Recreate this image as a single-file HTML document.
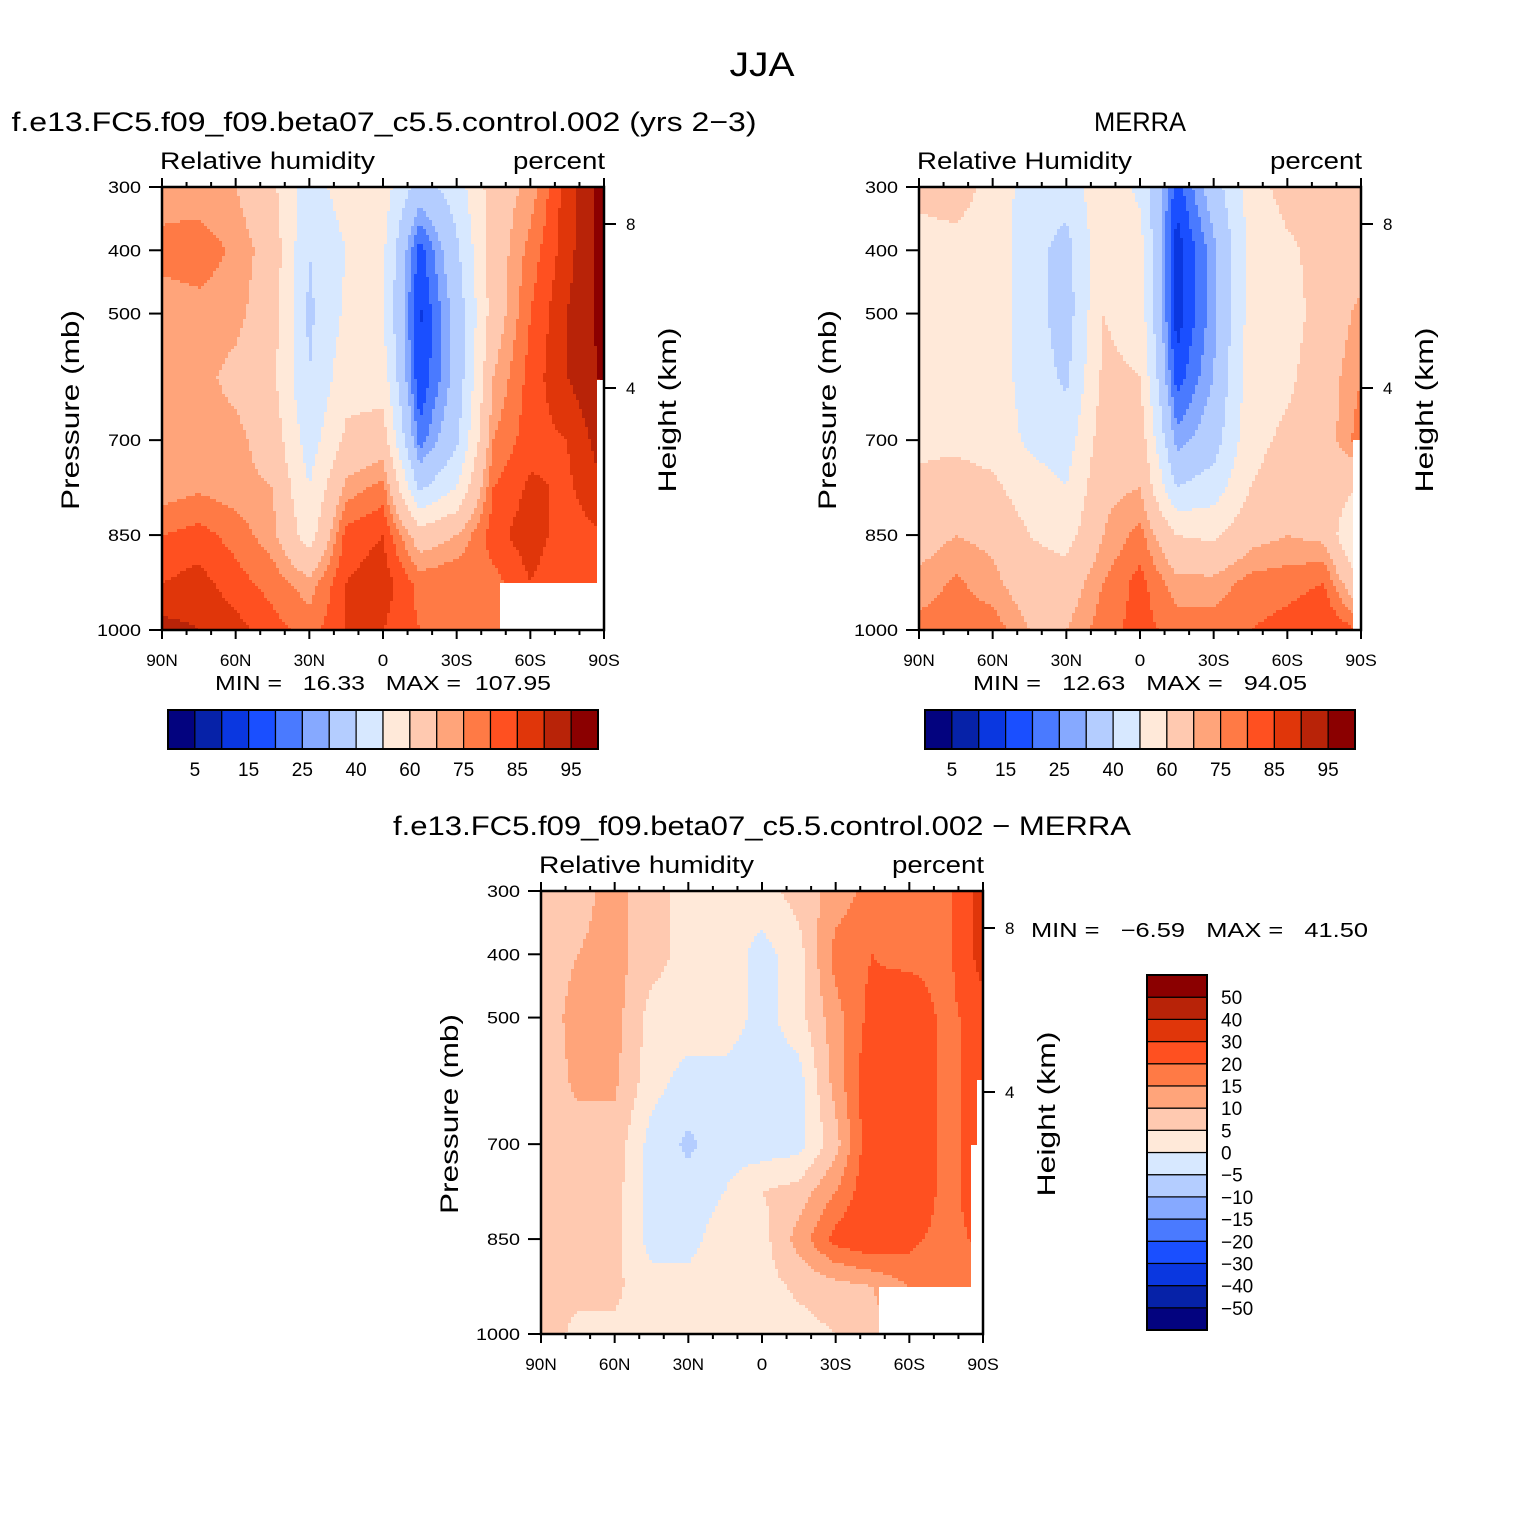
<!DOCTYPE html>
<html><head><meta charset="utf-8">
<style>
html,body{margin:0;padding:0;background:#fff;}
svg{display:block;font-family:"Liberation Sans",sans-serif;}
</style></head>
<body>
<svg id="fig" width="1524" height="1524" viewBox="0 0 1524 1524" xmlns="http://www.w3.org/2000/svg">
<rect width="1524" height="1524" fill="#fff"/>
<text x="762" y="76" font-size="34" text-anchor="middle" textLength="65" lengthAdjust="spacingAndGlyphs">JJA</text>
</svg>
<script>
// ---- data ----
const lats = [90,75,60,45,30,15,0,-15,-30,-45,-60,-75,-90];
const pLevels = [300,400,500,600,700,775,850,925,1000];
const rhModel = [
[72,77,72,72,70,72,80,85,92],
[72,78,73,72,72,74,82,87,90],
[70,74,72,68,72,72,78,82,87],
[62,66,65,62,66,70,72,78,82],
[45,40,38,40,45,50,55,72,78],
[55,50,52,56,62,72,82,85,85],
[55,52,50,55,65,77,85,88,85],
[35,17,14,15,22,38,65,78,80],
[45,38,33,33,38,50,70,80,80],
[65,65,65,70,75,80,83,78,78],
[72,77,80,82,83,86,88,85,85],
[88,88,90,90,85,84,82,80,80],
[98,98,97,96,93,90,85,80,80]];
const rhMerra = [
[62,57,56,56,58,62,66,72,77],
[64,57,56,56,58,64,70,76,78],
[57,56,56,55,56,62,68,72,78],
[45,44,45,46,48,55,60,65,70],
[45,36,35,38,45,50,56,65,70],
[56,58,60,62,65,68,70,75,78],
[48,54,56,60,66,70,77,82,82],
[17,12,12,17,27,40,60,72,78],
[35,28,28,30,35,45,58,72,78],
[55,52,54,55,57,60,67,77,80],
[64,58,56,58,62,65,70,78,82],
[64,64,64,66,66,66,68,80,85],
[64,66,72,75,78,60,45,60,80]];
const rhDiff = [
[7,7,7,7,7,7,7,7,7],
[8,10,12,11,8,7,7,6,4],
[12,12,12,11,8,7,7,6,4],
[7,7,3,2,-2,-2,-2,2,3],
[3,3,3,-2,-6,-3,-2,2,3],
[3,3,3,-2,-2,0,3,3,3],
[3,-2,-2,-3,-3,5,3,3,3],
[7,3,3,-2,-2,7,12,6,3],
[12,17,13,12,8,15,22,8,5],
[17,20,22,25,25,25,25,10,8],
[17,17,28,30,30,28,22,15,12],
[17,17,17,17,17,17,17,15,12],
[35,35,25,25,25,25,22,15,12]];
const rhBounds = [5,10,15,20,25,30,40,50,60,70,75,80,85,90,95];
const rhLabels = ["5","15","25","40","60","75","85","95"];
const diffBounds = [-50,-40,-30,-20,-15,-10,-5,0,5,10,15,20,30,40,50];
const diffLabels = ["50","40","30","20","15","10","5","0","\u22125","\u221210","\u221215","\u221220","\u221230","\u221240","\u221250"];
const palette = ["#03037f","#0622a8","#0a37e0","#1a4fff","#4a7aff","#86a9ff","#b4cdff","#d7e8ff","#ffe9d9","#ffc9b0","#ffa47a","#ff7a45","#ff5020","#e0360a","#b82308","#8b0000"];
const pTicks = [300,400,500,700,850,1000];
const latTickLabels = ["90N","60N","30N","0","30S","60S","90S"];

const NS="http://www.w3.org/2000/svg";
const svg=document.getElementById('fig');
function mk(tag,attrs,parent){const e=document.createElementNS(NS,tag);for(const k in attrs)e.setAttribute(k,attrs[k]);(parent||svg).appendChild(e);return e;}
function txt(x,y,s,size,anchor,parent,extra){const t=mk('text',Object.assign({x:x,y:y,'font-size':size,'text-anchor':anchor||'start'},extra||{}),parent);t.textContent=s;return t;}
function fit(len){return {textLength:len,lengthAdjust:'spacingAndGlyphs'};}

function colorFor(v,bounds){let i=0;while(i<bounds.length&&v>=bounds[i])i++;return palette[i];}
function interp(grid,lat,p){
  let fi=(90-lat)/15; fi=Math.max(0,Math.min(lats.length-1.0001,fi));
  const i=Math.floor(fi),ti=fi-i;
  let j=0;while(j<pLevels.length-2&&p>pLevels[j+1])j++;
  let tj=(p-pLevels[j])/(pLevels[j+1]-pLevels[j]);tj=Math.max(0,Math.min(1,tj));
  const a=grid[i][j]*(1-tj)+grid[i][j+1]*tj;
  const b=grid[i+1][j]*(1-tj)+grid[i+1][j+1]*tj;
  return a*(1-ti)+b*ti;
}

function panel(o){
  const g=mk('g',{});
  
  
  const W=o.x1-o.x0,H=o.y1-o.y0;
  const xs=lat=>o.x0+(90-lat)/180*W;
  const ys=p=>o.y0+(p-300)/700*H;
  const field=mk('g',{},g);
  
  
  const step=3;
  function flush(x0,x1,py,col){
    const r=mk('rect',{x:x0,y:py,width:x1-x0+0.6,height:Math.min(step,o.y1-py)+0.6,fill:col},field);
    
    
  }
  for(let py=o.y0;py<o.y1;py+=step){
    const p=300+(py+step/2-o.y0)/H*700;
    let runStart=o.x0,runCol=null;
    for(let px=o.x0;px<o.x1;px+=step){
      const lat=90-(px+step/2-o.x0)/W*180;
      const col=colorFor(interp(o.grid,lat,p),o.bounds);
      if(col!==runCol){
        if(runCol)flush(runStart,px,py,runCol);
        runStart=px;runCol=col;
      }
    }
    if(runCol)flush(runStart,o.x1,py,runCol);
  }
  (o.masks||[]).forEach(m=>{const r=mk('rect',{x:m[0],y:m[1],width:m[2],height:m[3],fill:'#fff'},g);
    
    });
  const frame=mk('rect',{x:o.x0,y:o.y0,width:W,height:H,fill:'none',stroke:'#000','stroke-width':2.5},g);
  
  
  for(let lat=90;lat>=-90;lat-=10){
    const major=lat%30===0,len=major?9:5,x=xs(lat);
    mk('line',{x1:x,x2:x,y1:o.y1,y2:o.y1+len,stroke:'#000','stroke-width':2},g);
    mk('line',{x1:x,x2:x,y1:o.y0,y2:o.y0-len,stroke:'#000','stroke-width':2},g);
  }
  latTickLabels.forEach((s,k)=>{const t=txt(xs(90-30*k),o.y1+36,s,17,'middle',g,fit(s.length*10.5));
    
    });
  pTicks.forEach(p=>{const y=ys(p);
    mk('line',{x1:o.x0-13,x2:o.x0,y1:y,y2:y,stroke:'#000','stroke-width':2},g);
    const s=String(p);
    const t=txt(o.x0-21,y+6,s,17,'end',g,fit(s.length*11));
    
    });
  [[8,37],[4,201]].forEach(h=>{const y=o.y0+h[1];
    mk('line',{x1:o.x1,x2:o.x1+12,y1:y,y2:y,stroke:'#000','stroke-width':2},g);
    const t=txt(o.x1+22,y+6,String(h[0]),17,'start',g);
    
    });
  const yt=txt(0,0,'Pressure (mb)',25,'middle',g,Object.assign({transform:`translate(${o.x0-83},${o.y0+223}) rotate(-90)`},fit(200)));
  
  
  const ht=txt(0,0,'Height (km)',25,'middle',g,Object.assign({transform:`translate(${o.x1+72},${o.y0+223}) rotate(-90)`},fit(165)));
  
  
  const l1=txt(o.x0-2,o.y0-18,o.varName,24,'start',g,fit(215));
  
  
  const l2=txt(o.x1+1,o.y0-18,'percent',24,'end',g,fit(92));
  
  
  const tt=txt(o.titleX,o.y0-56,o.title,27,'middle',g,fit(o.titleW));
  
  
}

function hbar(x0,y0,w,h,name){
  const g=mk('g',{});
  
  
  const bw=w/16;
  palette.forEach((c,i)=>{const r=mk('rect',{x:x0+i*bw,y:y0,width:bw,height:h,fill:c,stroke:'#000','stroke-width':1.2},g);
    
    });
  mk('rect',{x:x0,y:y0,width:w,height:h,fill:'none',stroke:'#000','stroke-width':2},g);
  rhLabels.forEach((s,k)=>{const t=txt(x0+bw*(1+2*k),y0+66,s,19,'middle',g);
    
    });
}

panel({name:'model-panel',x0:162,x1:604,y0:187,y1:630,grid:rhModel,bounds:rhBounds,
  varName:'Relative humidity',title:'f.e13.FC5.f09_f09.beta07_c5.5.control.002 (yrs 2\u22123)',titleX:384,titleW:745,
  masks:[[500,583,104,47],[597,380,7,203]]});
panel({name:'merra-panel',x0:919,x1:1361,y0:187,y1:630,grid:rhMerra,bounds:rhBounds,
  varName:'Relative Humidity',title:'MERRA',titleX:1140,titleW:92,masks:[[1353,440,8,190]]});
panel({name:'difference-panel',x0:541,x1:983,y0:891,y1:1334,grid:rhDiff,bounds:diffBounds,
  varName:'Relative humidity',title:'f.e13.FC5.f09_f09.beta07_c5.5.control.002 \u2212 MERRA',titleX:762,titleW:738,
  masks:[[879,1287,104,47],[971,1145,12,142],[977,1080,6,65]]});

let t;
t=txt(383,690,'MIN =   16.33   MAX =  107.95',20,'middle',null,Object.assign({style:'white-space:pre'},fit(336)));


t=txt(1140,690,'MIN =   12.63   MAX =   94.05',20,'middle',null,Object.assign({style:'white-space:pre'},fit(334)));


t=txt(1031,937,'MIN =   \u22126.59   MAX =   41.50',20,'start',null,Object.assign({style:'white-space:pre'},fit(337)));



hbar(168,710,430,39,'model-colorbar');
hbar(925,710,430,39,'merra-colorbar');

(function(){
  const g=mk('g',{});
  
  
  const x0=1147,y0=975,w=60,h=355,bh=h/16;
  palette.forEach((c,i)=>{const r=mk('rect',{x:x0,y:y0+h-(i+1)*bh,width:w,height:bh,fill:c,stroke:'#000','stroke-width':1.2},g);
    
    });
  mk('rect',{x:x0,y:y0,width:w,height:h,fill:'none',stroke:'#000','stroke-width':2},g);
  diffLabels.forEach((s,k)=>{const tt=txt(x0+w+14,y0+bh*(k+1)+7,s,19,'start',g);
    
    });
})();
</script>
</body></html>
